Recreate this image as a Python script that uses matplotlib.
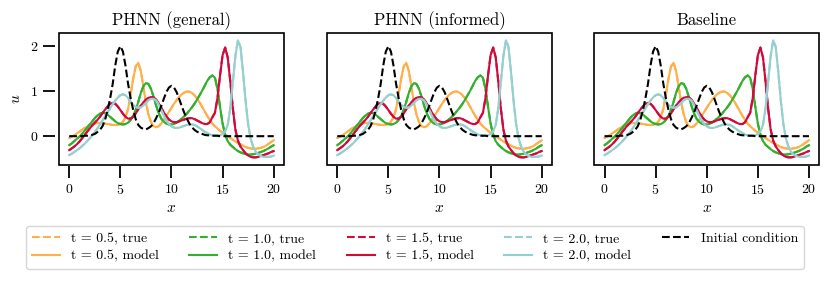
import numpy as np
import matplotlib
matplotlib.use('Agg')
import matplotlib.pyplot as plt

# grid shared by all curves (step 0.25)
x = np.linspace(0, 20, 81)

u_init = [0.00, 0.00, 0.00, 0.00, 0.00, 0.00, 0.01, 0.01, 0.02, 0.03,
          0.05, 0.09, 0.14, 0.22, 0.36, 0.57, 0.84, 1.16, 1.57, 1.88,
          2.00, 1.88, 1.57, 1.17, 0.85, 0.59, 0.38, 0.25, 0.19, 0.16,
          0.15, 0.18, 0.22, 0.29, 0.40, 0.52, 0.67, 0.83, 0.98, 1.08,
          1.12, 1.08, 0.98, 0.83, 0.67, 0.52, 0.39, 0.28, 0.20, 0.14,
          0.10, 0.07, 0.05, 0.03, 0.02, 0.02, 0.01, 0.01, 0.01, 0.00,
          0.00, 0.00, 0.00, 0.00, 0.00, 0.00, 0.00, 0.00, 0.00, 0.00,
          0.00, 0.00, 0.00, 0.00, 0.00, 0.00, 0.00, 0.00, 0.00, 0.00,
          0.00]

u_t05 = [-0.04, -0.01, 0.02, 0.06, 0.10, 0.14, 0.18, 0.21, 0.24, 0.26,
         0.28, 0.29, 0.29, 0.29, 0.28, 0.27, 0.26, 0.25, 0.25, 0.25,
         0.27, 0.32, 0.42, 0.60, 0.92, 1.27, 1.55, 1.63, 1.45, 1.10,
         0.75, 0.48, 0.31, 0.22, 0.20, 0.22, 0.28, 0.36, 0.45, 0.54,
         0.63, 0.72, 0.80, 0.87, 0.93, 0.97, 0.99, 0.99, 0.96, 0.91,
         0.84, 0.75, 0.65, 0.55, 0.45, 0.36, 0.28, 0.22, 0.17, 0.12,
         0.08, 0.04, 0.00, -0.04, -0.08, -0.12, -0.15, -0.18, -0.21, -0.24,
         -0.26, -0.27, -0.28, -0.28, -0.27, -0.26, -0.24, -0.21, -0.17, -0.13,
         -0.09]

u_t10 = [-0.20, -0.16, -0.11, -0.06, -0.01, 0.05, 0.12, 0.19, 0.26, 0.33,
         0.40, 0.46, 0.50, 0.52, 0.51, 0.48, 0.43, 0.38, 0.33, 0.29,
         0.27, 0.26, 0.27, 0.30, 0.36, 0.45, 0.58, 0.76, 0.96, 1.11,
         1.18, 1.16, 1.05, 0.87, 0.68, 0.51, 0.39, 0.32, 0.28, 0.26,
         0.26, 0.27, 0.30, 0.34, 0.39, 0.44, 0.50, 0.57, 0.64, 0.72,
         0.81, 0.91, 1.01, 1.12, 1.23, 1.31, 1.35, 1.30, 1.05, 0.65,
         0.28, 0.03, -0.11, -0.19, -0.24, -0.29, -0.33, -0.36, -0.38, -0.40,
         -0.41, -0.41, -0.40, -0.39, -0.37, -0.35, -0.33, -0.30, -0.27, -0.23,
         -0.20]

u_t15 = [-0.31, -0.27, -0.23, -0.18, -0.12, -0.05, 0.02, 0.10, 0.17, 0.24,
         0.30, 0.36, 0.43, 0.51, 0.59, 0.66, 0.72, 0.74, 0.72, 0.66,
         0.58, 0.50, 0.43, 0.39, 0.39, 0.43, 0.50, 0.60, 0.68, 0.75,
         0.81, 0.85, 0.87, 0.86, 0.81, 0.73, 0.63, 0.53, 0.44, 0.37,
         0.33, 0.31, 0.31, 0.33, 0.35, 0.37, 0.39, 0.40, 0.40, 0.38,
         0.35, 0.32, 0.29, 0.27, 0.27, 0.31, 0.42, 0.52, 0.85, 1.35,
         1.80, 1.97, 1.75, 1.22, 0.62, 0.15, -0.10, -0.23, -0.31, -0.38,
         -0.43, -0.46, -0.47, -0.47, -0.46, -0.44, -0.42, -0.40, -0.38, -0.35,
         -0.33]

u_t20 = [-0.42, -0.39, -0.35, -0.31, -0.27, -0.22, -0.17, -0.11, -0.05, 0.02,
         0.09, 0.17, 0.26, 0.35, 0.44, 0.53, 0.62, 0.71, 0.79, 0.86,
         0.91, 0.93, 0.91, 0.85, 0.77, 0.70, 0.65, 0.63, 0.64, 0.68,
         0.74, 0.80, 0.83, 0.83, 0.79, 0.70, 0.58, 0.46, 0.35, 0.27,
         0.22, 0.19, 0.18, 0.19, 0.21, 0.23, 0.25, 0.26, 0.26, 0.25,
         0.22, 0.18, 0.14, 0.10, 0.07, 0.04, 0.02, 0.01, 0.01, 0.02,
         0.05, 0.11, 0.25, 0.62, 1.20, 1.78, 2.13, 1.98, 1.42, 0.78,
         0.26, -0.06, -0.24, -0.35, -0.41, -0.44, -0.46, -0.46, -0.46, -0.45,
         -0.43]

times = ['0.5', '1.0', '1.5', '2.0']
u_true = [u_t05, u_t10, u_t15, u_t20]
# model predictions are visually on top of the true solution in all panels
u_model = {'PHNN (general)': u_true,
           'PHNN (informed)': u_true,
           'Baseline': u_true}
colors = ['#FFB04A', '#33B02E', '#D20A3C', '#96CFCF']

plt.rcParams['font.family'] = 'cmr10'
plt.rcParams['mathtext.fontset'] = 'cm'
plt.rcParams['axes.formatter.use_mathtext'] = True
plt.rcParams['font.size'] = 10

fig = plt.figure(figsize=(8.3, 2.83), dpi=100)
lefts = [0.0711, 0.394, 0.716]
axes = [fig.add_axes([l, 0.417, 0.271, 0.466]) for l in lefts]

for i, (ax, name) in enumerate(zip(axes, u_model)):
    for t, ut, um, c in zip(times, u_true, u_model[name], colors):
        ax.plot(x, ut, '--', color=c, lw=1.5, label='t = %s, true' % t)
        ax.plot(x, um, '-', color=c, lw=1.5, label='t = %s, model' % t)
    ax.plot(x, u_init, '--', color='black', lw=1.5, label='Initial condition')

    ax.set_title(name, fontsize=12, pad=6)
    ax.set_xlabel('$x$', fontsize=11, labelpad=3)
    ax.set_xlim(-1, 21)
    ax.set_ylim(-0.64, 2.29)
    ax.set_xticks([0, 5, 10, 15, 20])
    ax.set_yticks([0, 1, 2])

    # box drawn by the patch, ticks pushed out on invisible spines
    for s in ax.spines.values():
        s.set_visible(False)
    ax.spines['bottom'].set_position(('outward', 1))
    ax.spines['left'].set_position(('outward', 3))
    ax.patch.set_edgecolor('black')
    ax.patch.set_linewidth(1.2)
    ax.tick_params(direction='out', length=8.5, width=1.3, pad=3.5, labelsize=10)
    if i == 0:
        ax.set_ylabel('$u$', fontsize=11, labelpad=5)
    else:
        ax.tick_params(axis='y', left=False, labelleft=False)

handles, labels = axes[0].get_legend_handles_labels()
fig.legend(handles, labels, loc='lower center', bbox_to_anchor=(0.5, 0.025),
           ncol=5, fontsize=10, frameon=True, edgecolor='#cccccc',
           fancybox=True, handlelength=2.0, handletextpad=0.8,
           columnspacing=2.2, borderpad=0.45, labelspacing=0.35)

plt.savefig('out.png', dpi=100)
